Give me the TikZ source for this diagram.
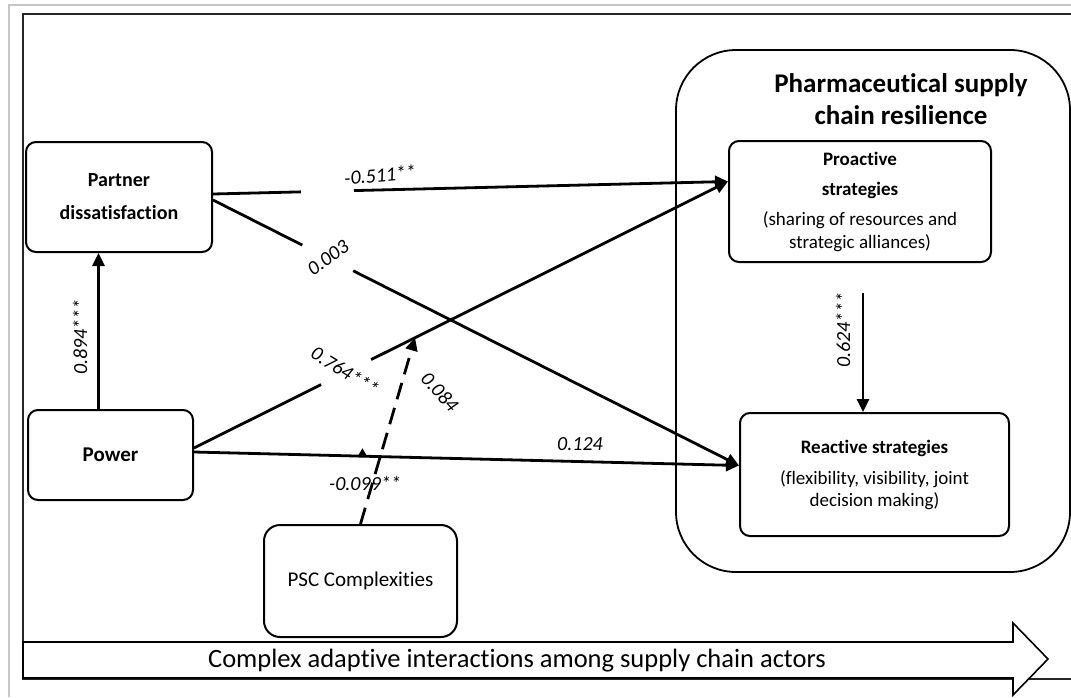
\documentclass[tikz,border=0pt]{standalone}
\usepackage{fontspec}
\setmainfont{Carlito}[Ligatures=NoCommon]
\usetikzlibrary{arrows.meta,calc}
\begin{document}
\begin{tikzpicture}[x=1pt,y=-1pt,
  box/.style={draw,line width=2pt,rounded corners=10pt,align=center,inner sep=0pt},
  conn/.style={line width=2.8pt,-{Triangle[length=13pt,width=12pt]}},
  lab/.style={font=\fontsize{20}{20}\selectfont\itshape,inner sep=0pt},
  ]
\useasboundingbox (0,0) rectangle (1071,697);
% frames
\draw[gray!45,line width=1.5pt] (9,697) -- (9,5) -- (1071,5);
\draw[line width=2.5pt,black!85] (1071,14) -- (23,14) -- (23,679) -- (1071,679);
\draw[line width=1.6pt,fill=white] (23,642) -- (1013,642) -- (1013,623) -- (1048,659) -- (1013,695) -- (1013,678) -- (23,678) -- cycle;
\node[font=\fontsize{26.5}{26.5}\selectfont,inner sep=0pt] (cap) at (517,661) {Complex adaptive interactions among supply chain actors};

% nodes
\node[box,minimum width=186pt,minimum height=110pt,font=\bfseries\fontsize{20}{33}\selectfont] (pd) at (119,197) {Partner\\dissatisfaction};
\node[box,minimum width=165pt,minimum height=90pt,font=\bfseries\fontsize{21}{24}\selectfont] (pw) at (110.5,455) {Power};
\node[box,rounded corners=16pt,minimum width=193pt,minimum height=112pt,font=\fontsize{21}{24}\selectfont] (psc) at (360.5,581) {PSC Complexities};
\node[draw,line width=1.8pt,rounded corners=60pt,minimum width=394pt,minimum height=522pt,inner sep=0pt] (psr) at (873,311) {};
\node[font=\bfseries\fontsize{27}{32}\selectfont,align=center,inner sep=0pt] (title) at (901,99) {Pharmaceutical supply\\chain resilience};
\node[box,minimum width=262pt,minimum height=121pt,font=\fontsize{19}{23}\selectfont] (pro) at (860,201.5) {\textbf{Proactive}\\[7pt]\textbf{strategies}\\[7pt](sharing of resources and\\strategic alliances)};
\node[box,minimum width=269pt,minimum height=123pt,font=\fontsize{19}{22}\selectfont] (re) at (874.5,474.5) {\textbf{Reactive strategies}\\[9pt](flexibility, visibility, joint\\decision making)};

% connectors
\draw[conn] ([xshift=-12pt]pw.north) -- ([xshift=-12pt]pw.north |- pd.south);
\draw[conn,dash pattern=on 88pt off 53pt on 700pt] ([yshift=3pt]pd.east) -- ([yshift=20pt]pro.west);
\draw[conn,dash pattern=on 100pt off 57pt on 700pt] ([yshift=-3pt]pd.east) -- ([yshift=9pt]re.west);
\draw[conn,dash pattern=on 142pt off 56pt on 700pt] ([yshift=7pt]pw.east) -- ([yshift=20pt]pro.west);
\draw[conn] ([yshift=3pt]pw.east) -- ([yshift=9pt]re.west);
\draw[conn,shorten <=30pt] ([xshift=3pt]pro.south) -- ([xshift=3pt]pro.south |- re.north);

\path ([yshift=7pt]pw.east) -- ([yshift=20pt]pro.west) coordinate[pos=0.414] (m1);
\path ([yshift=3pt]pw.east) -- ([yshift=9pt]re.west) coordinate[pos=0.309] (m2);
\draw[conn,dash pattern=on 17pt off 9pt] (psc.north) -- (m1);
\draw[line width=1.5pt,-{Triangle[length=9pt,width=10pt]}] (m2) -- ([yshift=8pt]m2);

% labels
\node[lab,rotate=90] (l894) at (80,337) {0.894***};
\node[lab,rotate=5] (l511) at (380,175) {-0.511**};
\node[lab,rotate=35] (l003) at (328,258) {0.003};
\node[lab,rotate=-32] (l764) at (345,371) {0.764***};
\node[lab,rotate=-48] (l084) at (440,392) {0.084};
\node[lab] (l099) at (365,483) {-0.099**};
\node[lab] (l124) at (580,444) {0.124};
\node[lab,rotate=90] (l624) at (843,330) {0.624***};
\end{tikzpicture}
\end{document}
